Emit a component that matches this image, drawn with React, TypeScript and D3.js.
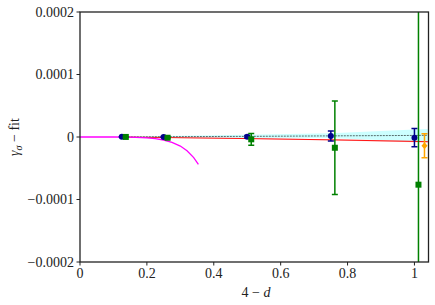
import React from "react";
import * as d3 from "d3";

const W = 435, H = 305;
const M = { left: 80, right: 435 - 428.5, top: 12, bottom: 305 - 262 };

const xTicks = [0, 0.2, 0.4, 0.6, 0.8, 1];
const yTicks = [-0.0002, -0.0001, 0, 0.0001, 0.0002];
const yTickLabels = ["\u22120.0002", "\u22120.0001", "0", "0.0001", "0.0002"];
const xTickLabels = ["0", "0.2", "0.4", "0.6", "0.8", "1"];

// blue circles
const blueX = [0.125, 0.25, 0.5, 0.75, 1.0];
const blueY = [0.0000003, 0.0000002, 0.0000005, 0.0000016, -0.000001];
const blueErr = [0.0000004, 0.0000006, 0.000002, 0.000008, 0.0000145];

// green squares
const greenX = [0.137, 0.262, 0.512, 0.762, 1.012];
const greenY = [0.0000001, -0.0000012, -0.0000037, -0.0000172, -0.0000763];
const greenErr = [0.0000005, 0.000001, 0.0000094, 0.0000748, 0.0005];

// orange diamond
const orangeX = [1.03];
const orangeY = [-0.0000139];
const orangeErr = [0.0000192];

// magenta curve
const magX = [0, 0.05, 0.1, 0.15, 0.2, 0.225, 0.25, 0.275, 0.3, 0.32, 0.34, 0.354];
const magY = [0, 0, 0, -0.0000003, -0.0000013, -0.0000025, -0.0000048, -0.0000085, -0.0000145, -0.000022, -0.000033, -0.0000437];

// red fit line with band
const redX = [0.125, 0.5, 0.75, 1.04];
const redY = [0, -0.0000025, -0.0000045, -0.0000075];
const redLo = [-0.0000003, -0.000003, -0.0000055, -0.0000088];
const redHi = [0.0000003, -0.000002, -0.0000035, -0.0000062];

// cyan band and grey centre line
const cyanX = [0.125, 0.25, 0.5, 0.75, 1.0, 1.04];
const cyanLo = [0, -0.0000005, -0.000001, -0.0000015, -0.000007, -0.0000076];
const cyanHi = [0, 0.0000015, 0.0000035, 0.000006, 0.000012, 0.000013];
const cyanMid = [0, 0.0000005, 0.000001, 0.0000018, 0.0000025, 0.0000027];

export default function App() {
  const x = d3.scaleLinear().domain([0, 1.042]).range([M.left, W - M.right]);
  const y = d3.scaleLinear().domain([-0.0002, 0.0002]).range([H - M.bottom, M.top]);
  const line = d3.line<[number, number]>().x(d => x(d[0])).y(d => y(d[1]));
  const area = (xs: number[], lo: number[], hi: number[]) =>
    d3.area<number>().x((_, i) => x(xs[i])).y0((_, i) => y(lo[i])).y1((_, i) => y(hi[i]))(xs.map((_, i) => i)) || "";
  const font = "'Liberation Serif', 'DejaVu Serif', serif";
  const x0 = M.left, x1 = W - M.right, y0 = M.top, y1 = H - M.bottom;
  const fs = 14;

  const errBar = (cx: number, cy: number, e: number, color: string, key: string, cap = 3) => (
    <g key={key} stroke={color} strokeWidth={1.5}>
      <line x1={x(cx)} x2={x(cx)} y1={y(cy - e)} y2={y(cy + e)} />
      <line x1={x(cx) - cap} x2={x(cx) + cap} y1={y(cy - e)} y2={y(cy - e)} />
      <line x1={x(cx) - cap} x2={x(cx) + cap} y1={y(cy + e)} y2={y(cy + e)} />
    </g>
  );

  return (
    <svg width={W} height={H} style={{ position: "absolute", left: 0, top: 0 }}>
      <rect width={W} height={H} fill="white" />
      <defs>
        <clipPath id="plot"><rect x={x0} y={y0} width={x1 - x0} height={y1 - y0} /></clipPath>
      </defs>
      <g clipPath="url(#plot)">
        <path d={area(cyanX, cyanLo, cyanHi)} fill="#00ffff" opacity={0.2} />
        <path d={area(redX, redLo, redHi)} fill="#ff0000" opacity={0.25} />
        <path d={line(redX.map((v, i) => [v, redY[i]]) as [number, number][]) || ""} fill="none" stroke="#ff0000" strokeWidth={0.9} />
        <path d={line(cyanX.map((v, i) => [v, cyanMid[i]]) as [number, number][]) || ""} fill="none" stroke="#4a5a5a" strokeWidth={0.9} strokeDasharray="2,1" />
        <path d={line(magX.map((v, i) => [v, magY[i]]) as [number, number][]) || ""} fill="none" stroke="#ff00ff" strokeWidth={1.3} />
        {blueX.map((v, i) => errBar(v, blueY[i], blueErr[i], "#00008b", "be" + i))}
        {blueX.map((v, i) => <circle key={"b" + i} cx={x(v)} cy={y(blueY[i])} r={3} fill="#00008b" />)}
        {greenX.map((v, i) => errBar(v, greenY[i], greenErr[i], "#008000", "ge" + i))}
        {greenX.map((v, i) => <rect key={"g" + i} x={x(v) - 3} y={y(greenY[i]) - 3} width={6} height={6} fill="#008000" />)}
        {orangeX.map((v, i) => errBar(v, orangeY[i], orangeErr[i], "#ffa500", "oe" + i))}
        {orangeX.map((v, i) => (
          <path key={"o" + i} d={`M${x(v)},${y(orangeY[i]) - 3.5}L${x(v) + 3},${y(orangeY[i])}L${x(v)},${y(orangeY[i]) + 3.5}L${x(v) - 3},${y(orangeY[i])}Z`} fill="#ffa500" />
        ))}
      </g>
      <rect x={x0} y={y0} width={x1 - x0} height={y1 - y0} fill="none" stroke="#222" strokeWidth={1.3} />
      {xTicks.map((t, i) => (
        <g key={"xt" + i}>
          <line x1={x(t)} x2={x(t)} y1={y1} y2={y1 + 3.5} stroke="#222" strokeWidth={1} />
          <text x={x(t)} y={y1 + 16} textAnchor="middle" fontFamily={font} fontSize={fs} fill="#222">{xTickLabels[i]}</text>
        </g>
      ))}
      {yTicks.map((t, i) => (
        <g key={"yt" + i}>
          <line x1={x0 - 3.5} x2={x0} y1={y(t)} y2={y(t)} stroke="#222" strokeWidth={1} />
          <text x={x0 - 6} y={y(t) + 4.8} textAnchor="end" fontFamily={font} fontSize={fs} fill="#222">{yTickLabels[i]}</text>
        </g>
      ))}
      <text x={256} y={297} textAnchor="middle" fontFamily={font} fontSize={fs} fill="#222">
        4 − <tspan fontStyle="italic">d</tspan>
      </text>
      <text transform={`translate(19,${(y0 + y1) / 2}) rotate(-90)`} textAnchor="middle" fontFamily={font} fontSize={fs} fill="#222">
        <tspan fontStyle="italic">γ</tspan><tspan fontStyle="italic" fontSize={10} dy={3}>σ</tspan><tspan dy={-3}> − fit</tspan>
      </text>
    </svg>
  );
}
